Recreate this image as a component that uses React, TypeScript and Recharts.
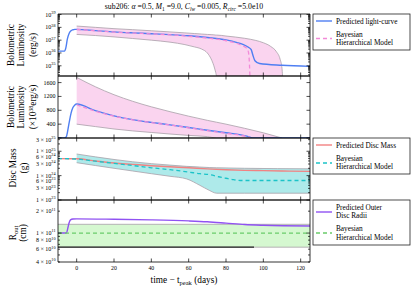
import React from 'react';
import { ComposedChart, Line, Area, XAxis, YAxis } from 'recharts';

const FONT = '"Liberation Serif", "DejaVu Serif", serif';

// ---------- shared x axis ----------
const X_DOMAIN: [number, number] = [-10, 125];
const X_TICKS = [0, 20, 40, 60, 80, 100, 120];

// ---------- panel 1: bolometric luminosity (log, erg/s) ----------
const LUM_LOG_DOMAIN: [number, number] = [1.6e34, 1.1e39];
const LUM_LOG_PRED: [number, number][] = [
  [-10, 1.4e36], [-6.5, 1.4e36], [-5.8, 2.5e36], [-5, 1.2e37], [-4, 3.5e37], [-3, 5.5e37],
  [-2, 6.5e37], [-1, 6.9e37], [0, 7e37], [10, 5.6e37], [20, 4.4e37], [30, 3.7e37],
  [40, 3.2e37], [50, 2.7e37], [60, 2.2e37], [70, 1.6e37], [80, 1.05e37], [86, 6.5e36],
  [89, 4.7e36], [92, 2.8e36], [93.5, 1.8e36], [94.5, 6e35], [95.5, 2.5e35], [98, 1.5e35],
  [110, 1.1e35], [125, 9e34],
];
const LUM_LOG_BHM: [number, number][] = [
  [0, 6.8e37], [10, 5.4e37], [20, 4.3e37], [30, 3.6e37], [40, 3.1e37], [50, 2.6e37],
  [60, 2.0e37], [70, 1.45e37], [80, 9e36], [86, 5.5e36], [89, 3.6e36], [91, 2.4e36],
  [92, 1.2e36], [92.6, 1e35], [92.8, 1.6e34],
];
// [t, low, high]
const LUM_LOG_BAND: [number, number, number][] = [
  [0, 2.8e37, 1.26e38], [10, 2.3e37, 1e38], [20, 1.8e37, 7.9e37], [30, 1.35e37, 6.6e37],
  [40, 1e37, 5.4e37], [50, 7e36, 4.4e37], [58, 4.5e36, 3.7e37], [63, 3e36, 3.3e37],
  [67, 2e36, 3.0e37], [70, 1e36, 2.8e37], [72, 3.5e35, 2.7e37], [73.5, 1e35, 2.6e37],
  [74.5, 3e34, 2.5e37], [75, 1.6e34, 2.5e37], [80, 1.6e34, 2.1e37], [90, 1.6e34, 1.4e37],
  [96, 1.6e34, 9.5e36], [100, 1.6e34, 6.3e36], [104, 1.6e34, 3.2e36], [107, 1.6e34, 1.26e36],
  [109, 1.6e34, 3.2e35], [110, 1.6e34, 6.3e34], [110.3, 1.6e34, 1.6e34],
];

// ---------- panel 2: bolometric luminosity (linear, 1e38 erg/s) ----------
const LUM_LIN_DOMAIN: [number, number] = [0, 1790];
const LUM_LIN_TICKS = [0, 400, 800, 1200, 1600];
const LUM_LIN_PRED: [number, number][] = [
  [-10, 0], [-6.5, 0], [-5.5, 40], [-5, 150], [-4, 450], [-3, 720], [-2, 880], [-1, 950],
  [0, 980], [10, 790], [20, 640], [30, 530], [40, 450], [50, 380], [60, 305], [70, 225],
  [80, 150], [88, 90], [92, 40], [94, 0], [125, 0],
];
const LUM_LIN_BHM: [number, number][] = [
  [0, 960], [10, 775], [20, 630], [30, 525], [40, 445], [50, 375], [60, 295], [70, 210],
  [80, 135], [88, 75], [92, 30], [93, 0],
];
const LUM_LIN_BAND: [number, number, number][] = [
  [0, 400, 1750], [10, 330, 1480], [20, 260, 1250], [30, 205, 1060], [40, 160, 900],
  [50, 115, 760], [60, 75, 630], [70, 40, 510], [75, 0, 455], [80, 0, 400], [90, 0, 280],
  [100, 0, 150], [110, 0, 0],
];

// ---------- panel 3: disc mass (g) ----------
const MASS_DOMAIN: [number, number] = [1e23, 3.5e25];
const MASS_PRED: [number, number][] = [
  [-10, 5e24], [0, 4.9e24], [10, 4e24], [20, 3.3e24], [30, 2.9e24], [40, 2.55e24],
  [50, 2.3e24], [60, 2.1e24], [70, 1.9e24], [80, 1.75e24], [90, 1.65e24], [100, 1.6e24],
  [110, 1.55e24], [125, 1.5e24],
];
const MASS_BHM: [number, number][] = [
  [-10, 5e24], [0, 4.8e24], [10, 3.9e24], [20, 3.2e24], [30, 2.6e24], [40, 2.1e24],
  [50, 1.75e24], [60, 1.4e24], [66, 1.2e24], [71, 1.1e24], [76, 9e23], [80, 7.8e23],
  [84, 6.8e23], [90, 6.3e23], [125, 6.3e23],
];
const MASS_BAND: [number, number, number][] = [
  [0, 3.4e24, 7.7e24], [10, 2.6e24, 5.9e24], [20, 2e24, 4.6e24], [30, 1.55e24, 3.7e24],
  [40, 1.2e24, 3.1e24], [50, 9.4e23, 2.7e24], [59, 7.3e23, 2.4e24], [66, 4e23, 2.25e24],
  [71, 2.5e23, 2.15e24], [75, 1.9e23, 2.1e24], [90, 1.9e23, 2e24], [125, 1.9e23, 1.9e24],
];

// ---------- panel 4: outer disc radius (cm) ----------
const ROUT_DOMAIN: [number, number] = [4e10, 2.85e11];
const ROUT_PRED: [number, number][] = [
  [-10, 1e11], [-5.5, 1e11], [-4.8, 1.15e11], [-4, 1.4e11], [-3.3, 1.52e11], [-2, 1.56e11],
  [0, 1.57e11], [20, 1.55e11], [40, 1.52e11], [60, 1.47e11], [70, 1.43e11], [80, 1.37e11],
  [90, 1.31e11], [100, 1.28e11], [125, 1.25e11],
];
const ROUT_BHM: [number, number][] = [[-10, 1e11], [125, 1e11]];
const ROUT_BAND: [number, number, number][] = [[-10, 6.4e10, 1.32e11], [125, 6.4e10, 1.32e11]];
const ROUT_BAND_DARK_EDGE: [number, number][] = [[-10, 6.4e10], [95, 6.4e10]];

// ---------- helpers ----------
const pts = (a: [number, number][]) => a.map(([t, v]) => ({ t, v }));
const band = (a: [number, number, number][]) => a.map(([t, lo, hi]) => ({ t, r: [lo, hi] }));

const logTicks = (lo: number, hi: number) => {
  const out: number[] = [];
  for (let e = Math.floor(Math.log10(lo)); e <= Math.ceil(Math.log10(hi)); e++) {
    for (let m = 1; m <= 9; m++) {
      const v = m * Math.pow(10, e);
      if (v >= lo * 0.999 && v <= hi * 1.001) out.push(v);
    }
  }
  return out;
};
const decomp = (v: number) => {
  const e = Math.floor(Math.log10(v) + 1e-9);
  const m = Math.round(v / Math.pow(10, e));
  return { m, e };
};

const sup = (e: number) => (
  <tspan dy={-2.6} fontSize={4.2}>{e}</tspan>
);

type LabelFn = (v: number) => React.ReactNode | null;
type MajorFn = (v: number) => boolean;

const yTickLeft = (labelFn: LabelFn, majorFn: MajorFn) => (p: any) => {
  const { x, y, payload } = p;
  const v = payload.value;
  const len = majorFn(v) ? 3.5 : 2;
  const lab = labelFn(v);
  return (
    <g>
      <line x1={x} x2={x + len} y1={y} y2={y} stroke="#000" strokeWidth={0.7} />
      {lab != null && (
        <text x={x - 2.5} y={y + 2} textAnchor="end" fontSize={6} fontFamily={FONT} fill="#000">
          {lab}
        </text>
      )}
    </g>
  );
};
const yTickRight = (majorFn: MajorFn) => (p: any) => {
  const { x, y, payload } = p;
  const len = majorFn(payload.value) ? 3.5 : 2;
  return <line x1={x} x2={x - len} y1={y} y2={y} stroke="#000" strokeWidth={0.7} />;
};
const xTickBottom = (showLabel: boolean) => (p: any) => {
  const { x, y, payload } = p;
  return (
    <g>
      <line x1={x} x2={x} y1={y} y2={y - 3.5} stroke="#000" strokeWidth={0.7} />
      {showLabel && (
        <text x={x} y={y + 8} textAnchor="middle" fontSize={5.8} fontFamily={FONT} fill="#000">
          {payload.value}
        </text>
      )}
    </g>
  );
};
const xTickTop = (p: any) => {
  const { x, y } = p;
  return <line x1={x} x2={x} y1={y} y2={y + 3.5} stroke="#000" strokeWidth={0.7} />;
};

const W = 415;
const H = 291;
const PLOT_LEFT = 58;
const PLOT_RIGHT = 310;
const Y_AXIS_W = 40;

const axes = (
  yScale: 'log' | 'linear',
  yDomain: [number, number],
  yTicks: number[],
  labelFn: LabelFn,
  majorFn: MajorFn,
  showXLabels: boolean,
) => [
  <XAxis
    key="xb"
    xAxisId="b"
    type="number"
    dataKey="t"
    domain={X_DOMAIN}
    ticks={X_TICKS}
    interval={0}
    allowDataOverflow
    height={1}
    tickSize={0}
    tickMargin={0}
    tickLine={false}
    axisLine={{ stroke: '#000', strokeWidth: 0.8 }}
    tick={xTickBottom(showXLabels)}
  />,
  <XAxis
    key="xt"
    xAxisId="t"
    orientation="top"
    type="number"
    dataKey="t"
    domain={X_DOMAIN}
    ticks={X_TICKS}
    interval={0}
    allowDataOverflow
    height={1}
    tickSize={0}
    tickMargin={0}
    tickLine={false}
    axisLine={{ stroke: '#000', strokeWidth: 0.8 }}
    tick={xTickTop}
  />,
  <YAxis
    key="yl"
    yAxisId="l"
    type="number"
    scale={yScale}
    domain={yDomain}
    ticks={yTicks}
    interval={0}
    allowDataOverflow
    width={Y_AXIS_W}
    tickSize={0}
    tickMargin={0}
    tickLine={false}
    axisLine={{ stroke: '#000', strokeWidth: 0.8 }}
    tick={yTickLeft(labelFn, majorFn)}
  />,
  <YAxis
    key="yr"
    yAxisId="r"
    orientation="right"
    type="number"
    scale={yScale}
    domain={yDomain}
    ticks={yTicks}
    interval={0}
    allowDataOverflow
    width={1}
    tickSize={0}
    tickMargin={0}
    tickLine={false}
    axisLine={{ stroke: '#000', strokeWidth: 0.8 }}
    tick={yTickRight(majorFn)}
  />,
];

const margin = (top: number, bottom: number) => ({
  top: top - 1,
  bottom: H - bottom - 1,
  left: PLOT_LEFT - Y_AXIS_W,
  right: W - PLOT_RIGHT - 1,
});

const C = {
  blue: '#4f7ff2',
  pink: '#f28ad8',
  pinkFill: '#fad4ef',
  red: '#f28282',
  cyan: '#1cc3c8',
  cyanFill: '#aeeaea',
  purple: '#9052f2',
  green: '#6acc6a',
  greenFill: '#d5f8d0',
  edge: '#a8a0a8',
};

const common = { xAxisId: 'b', yAxisId: 'l', isAnimationActive: false } as const;

const PanelLum = () => (
  <ComposedChart width={W} height={H} margin={margin(14, 76)}>
    {axes('log', LUM_LOG_DOMAIN, logTicks(LUM_LOG_DOMAIN[0], LUM_LOG_DOMAIN[1]),
      (v) => { const { m, e } = decomp(v); return m === 1 ? <>10{sup(e)}</> : null; },
      (v) => decomp(v).m === 1, false)}
    <Area {...common} data={band(LUM_LOG_BAND)} dataKey="r" type="monotone" fill={C.pinkFill} fillOpacity={1} stroke={C.edge} strokeWidth={0.8} dot={false} activeDot={false} />
    <Line {...common} data={pts(LUM_LOG_PRED)} dataKey="v" type="monotone" stroke={C.blue} strokeWidth={1.4} dot={false} activeDot={false} />
    <Line {...common} data={pts(LUM_LOG_BHM)} dataKey="v" type="monotone" stroke={C.pink} strokeWidth={1.3} strokeDasharray="4 3" dot={false} activeDot={false} />
  </ComposedChart>
);

const PanelLin = () => (
  <ComposedChart width={W} height={H} margin={margin(76, 138)}>
    {axes('linear', LUM_LIN_DOMAIN, LUM_LIN_TICKS,
      (v) => (v === 0 ? null : <>{v}</>), () => true, false)}
    <Area {...common} data={band(LUM_LIN_BAND)} dataKey="r" type="monotone" fill={C.pinkFill} fillOpacity={1} stroke={C.edge} strokeWidth={0.8} dot={false} activeDot={false} />
    <Line {...common} data={pts(LUM_LIN_PRED)} dataKey="v" type="monotone" stroke={C.blue} strokeWidth={1.4} dot={false} activeDot={false} />
    <Line {...common} data={pts(LUM_LIN_BHM)} dataKey="v" type="monotone" stroke={C.pink} strokeWidth={1.3} strokeDasharray="4 3" dot={false} activeDot={false} />
  </ComposedChart>
);

const PanelMass = () => (
  <ComposedChart width={W} height={H} margin={margin(138, 200)}>
    {axes('log', MASS_DOMAIN, logTicks(MASS_DOMAIN[0], MASS_DOMAIN[1]),
      (v) => { const { m, e } = decomp(v); return [1, 3, 6].includes(m) ? <>{m} × 10{sup(e)}</> : null; },
      (v) => decomp(v).m === 1, false)}
    <Area {...common} data={band(MASS_BAND)} dataKey="r" type="monotone" fill={C.cyanFill} fillOpacity={1} stroke={C.edge} strokeWidth={0.8} dot={false} activeDot={false} />
    <Line {...common} data={pts(MASS_PRED)} dataKey="v" type="monotone" stroke={C.red} strokeWidth={1.4} dot={false} activeDot={false} />
    <Line {...common} data={pts(MASS_BHM)} dataKey="v" type="monotone" stroke={C.cyan} strokeWidth={1.3} strokeDasharray="4 3" dot={false} activeDot={false} />
  </ComposedChart>
);

const PanelRout = () => (
  <ComposedChart width={W} height={H} margin={margin(200, 262)}>
    {axes('log', ROUT_DOMAIN, logTicks(ROUT_DOMAIN[0], ROUT_DOMAIN[1]),
      (v) => { const { m, e } = decomp(v); return [1, 2, 4, 6, 8].includes(m) ? <>{m} × 10{sup(e)}</> : null; },
      (v) => decomp(v).m === 1, true)}
    <Area {...common} data={band(ROUT_BAND)} dataKey="r" type="linear" fill={C.greenFill} fillOpacity={1} stroke={C.edge} strokeWidth={0.8} dot={false} activeDot={false} />
    <Line {...common} data={pts(ROUT_BAND_DARK_EDGE)} dataKey="v" type="linear" stroke="#222" strokeWidth={1.1} dot={false} activeDot={false} />
    <Line {...common} data={pts(ROUT_PRED)} dataKey="v" type="monotone" stroke={C.purple} strokeWidth={1.4} dot={false} activeDot={false} />
    <Line {...common} data={pts(ROUT_BHM)} dataKey="v" type="linear" stroke={C.green} strokeWidth={1.3} strokeDasharray="4 3" dot={false} activeDot={false} />
  </ComposedChart>
);

const LegendBox = ({ x, y, w, h, children }: any) => (
  <g>
    <rect x={x} y={y} width={w} height={h} fill="#fff" stroke="#222" strokeWidth={0.8} />
    {children}
  </g>
);

const Overlay = () => {
  const fs = 7.3;
  const lx1 = 316;
  const lx2 = 332;
  const tx = 336;
  return (
    <svg width={W} height={H} style={{ position: 'absolute', left: 0, top: 0 }} fontFamily={FONT}>
      {/* title */}
      <text x={184} y={9} textAnchor="middle" fontSize={7.8} fill="#000">
        sub206: <tspan fontStyle="italic">α</tspan> =0.5, <tspan fontStyle="italic">M</tspan>
        <tspan fontSize={5.4} dy={1.5}>1</tspan>
        <tspan dy={-1.5}> =9.0, </tspan>
        <tspan fontStyle="italic">C</tspan>
        <tspan fontSize={5.4} dy={1.5} fontStyle="italic">lw</tspan>
        <tspan dy={-1.5}> =0.005, </tspan>
        <tspan fontStyle="italic">R</tspan>
        <tspan fontSize={5.4} dy={1.5} fontStyle="italic">circ</tspan>
        <tspan dy={-1.5}> =5.0e10</tspan>
      </text>

      {/* y labels */}
      <g fontSize={9.3} fill="#000" textAnchor="middle">
        <text transform="translate(13.5,45) rotate(-90)">Bolometric</text>
        <text transform="translate(24,45) rotate(-90)">Luminosity</text>
        <text transform="translate(35.5,45) rotate(-90)">(erg/s)</text>

        <text transform="translate(13.5,107) rotate(-90)">Bolometric</text>
        <text transform="translate(24,107) rotate(-90)">Luminosity</text>
        <text transform="translate(35.5,107) rotate(-90)">
          (×10<tspan dy={-3} fontSize={6}>38</tspan><tspan dy={3}>erg/s)</tspan>
        </text>

        <text transform="translate(16,168) rotate(-90)">Disc Mass</text>
        <text transform="translate(26.5,168) rotate(-90)">(g)</text>

        <text transform="translate(15.5,233) rotate(-90)">
          R<tspan fontSize={6.5} dy={2}>out</tspan>
        </text>
        <text transform="translate(26,233) rotate(-90)">(cm)</text>
      </g>

      {/* x label */}
      <text x={184} y={283} textAnchor="middle" fontSize={9.3} fill="#000">
        time − t<tspan fontSize={6.5} dy={2}>peak</tspan>
        <tspan dy={-2}> (days)</tspan>
      </text>

      {/* legend 1 */}
      <LegendBox x={313} y={14} w={97} h={36}>
        <line x1={lx1} x2={lx2} y1={21} y2={21} stroke={C.blue} strokeWidth={1.4} />
        <text x={tx} y={23.5} fontSize={fs}>Predicted light-curve</text>
        <line x1={lx1} x2={lx2} y1={38.5} y2={38.5} stroke={C.pink} strokeWidth={1.3} strokeDasharray="4 3" />
        <text x={tx} y={36.5} fontSize={fs}>Bayesian</text>
        <text x={tx} y={45} fontSize={fs}>Hierarchical Model</text>
      </LegendBox>

      {/* legend 3 */}
      <LegendBox x={313} y={138} w={97} h={36}>
        <line x1={lx1} x2={lx2} y1={145} y2={145} stroke={C.red} strokeWidth={1.4} />
        <text x={tx} y={147.5} fontSize={fs}>Predicted Disc Mass</text>
        <line x1={lx1} x2={lx2} y1={163} y2={163} stroke={C.cyan} strokeWidth={1.3} strokeDasharray="4 3" />
        <text x={tx} y={160.5} fontSize={fs}>Bayesian</text>
        <text x={tx} y={169} fontSize={fs}>Hierarchical Model</text>
      </LegendBox>

      {/* legend 4 */}
      <LegendBox x={313} y={200} w={97} h={45}>
        <line x1={lx1} x2={lx2} y1={212} y2={212} stroke={C.purple} strokeWidth={1.4} />
        <text x={tx} y={209.5} fontSize={fs}>Predicted Outer</text>
        <text x={tx} y={218} fontSize={fs}>Disc Radii</text>
        <line x1={lx1} x2={lx2} y1={233} y2={233} stroke={C.green} strokeWidth={1.3} strokeDasharray="4 3" />
        <text x={tx} y={230.5} fontSize={fs}>Bayesian</text>
        <text x={tx} y={240} fontSize={fs}>Hierarchical Model</text>
      </LegendBox>
    </svg>
  );
};

export default function App() {
  return (
    <div style={{ position: 'absolute', left: 0, top: 0, width: W, height: H, background: '#fff', fontFamily: FONT }}>
      <div style={{ position: 'absolute', left: 0, top: 0 }}><PanelLum /></div>
      <div style={{ position: 'absolute', left: 0, top: 0 }}><PanelLin /></div>
      <div style={{ position: 'absolute', left: 0, top: 0 }}><PanelMass /></div>
      <div style={{ position: 'absolute', left: 0, top: 0 }}><PanelRout /></div>
      <Overlay />
    </div>
  );
}
